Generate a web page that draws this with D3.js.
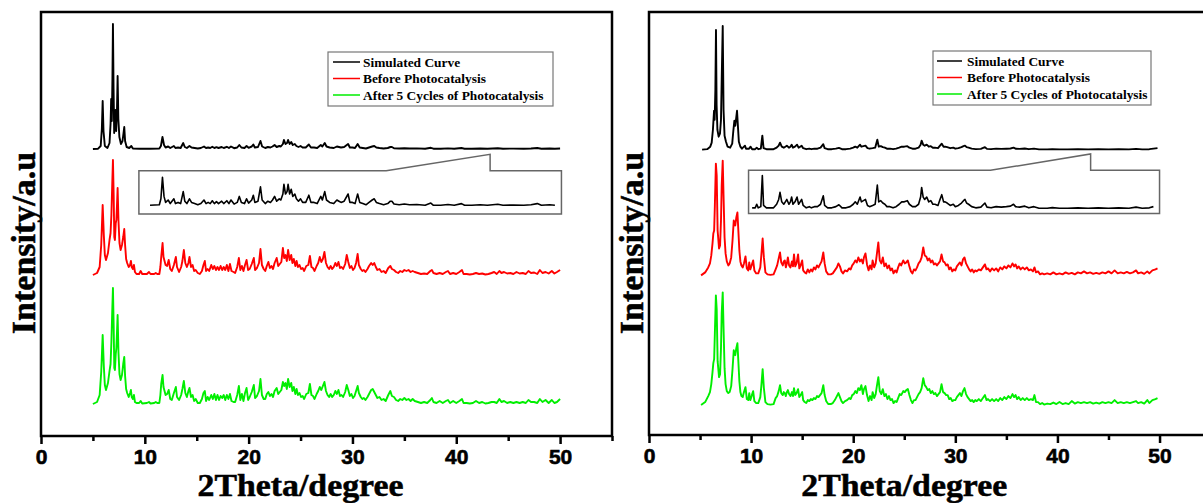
<!DOCTYPE html>
<html>
<head>
<meta charset="utf-8">
<script src="https://cdn.jsdelivr.net/npm/d3@7"></script>
<style>
  body { margin: 0; background: #fff; }
  .tick line { stroke: #000; stroke-width: 2.5px; }
  .title { font-family: "Liberation Serif", "Times New Roman", serif; font-weight: bold; font-size: 31px; fill: #000; stroke: #000; stroke-width: 0.5px; }
  .legendText { font-family: "Liberation Serif", "Times New Roman", serif; font-weight: bold; font-size: 13.4px; fill: #000; }
</style>
</head>
<body>
<div id="chart"></div>
<script>
// ---- data: [2theta, intensity (a.u.)] ----
var seriesNames = ["Simulated Curve", "Before Photocatalysis", "After 5 Cycles of Photocatalysis"];
var seriesColors = ["#000000", "#ff0000", "#00ee00"];
var xTicks = [0, 10, 20, 30, 40, 50];
var xMinorTicks = [5, 15, 25, 35, 45, 55];

// vertical stacking of the three patterns (a.u.)
var leftOffsets = [287, 161, 32];
var rightOffsets = [286, 160, 30];

var leftSim = [[5.0,0],[5.5,0.3],[5.75,3],[5.86,20],[5.94,48],[6.02,18],[6.15,3],[6.4,1],[6.6,6],[6.7,25],[6.76,50],[6.82,28],[6.88,70],[6.93,125],[6.99,60],[7.05,16],[7.12,30],[7.18,39],[7.24,18],[7.32,40],[7.38,73],[7.45,30],[7.55,12],[7.7,5],[7.85,8],[7.95,16],[8.02,22],[8.1,8],[8.25,2],[8.5,1],[8.7,3],[8.85,0.5],[9.5,0.3],[10.5,0.3],[11.4,0.5],[11.55,3],[11.7,12],[11.85,4],[12.0,1.5],[12.25,2.5],[12.45,1],[12.8,3],[12.95,1],[13.2,1.5],[13.45,1],[13.7,6],[13.85,2],[14.05,1],[14.3,3],[14.5,1.5],[14.8,1],[15.1,0.5],[15.4,1],[15.7,2.5],[15.9,1],[16.1,1.5],[16.3,1],[16.5,2.2],[16.7,1],[16.9,1.8],[17.1,1],[17.4,2],[17.6,1],[17.9,2.2],[18.1,1],[18.3,2.5],[18.6,0.8],[18.9,1.5],[19.1,4],[19.3,1.5],[19.6,1],[19.8,3],[20.0,1.2],[20.3,2.5],[20.45,4.5],[20.6,1.5],[20.9,2],[21.14,8],[21.3,2.5],[21.6,1],[21.85,2],[22.1,1.5],[22.3,2.5],[22.5,4],[22.7,2],[22.95,3],[23.1,2.5],[23.3,5],[23.4,9],[23.55,5],[23.7,6],[23.8,9],[23.95,5],[24.1,7],[24.25,4],[24.45,5],[24.6,3],[24.8,2],[25.0,3],[25.2,1.5],[25.5,1.5],[25.8,4.5],[26.0,1.5],[26.3,1.5],[26.6,1],[26.95,4],[27.1,2.5],[27.33,6],[27.5,2.5],[27.8,1.5],[28.2,1],[28.5,2.5],[28.7,2],[28.9,1.5],[29.2,2],[29.58,5],[29.75,1.5],[30.0,1.5],[30.25,1],[30.5,5],[30.7,1.5],[31.0,1],[31.3,0.5],[31.6,1.5],[31.9,2.5],[32.1,3],[32.3,1.5],[32.6,1],[33.0,0.5],[33.4,1],[33.65,2],[33.8,2],[34.0,0.8],[34.5,0.5],[35.0,0.8],[35.5,0.5],[36.2,0.6],[37.0,0.3],[37.55,1.2],[37.8,0.3],[38.5,0.3],[39.2,0.6],[39.8,0.3],[40.5,1],[40.8,0.3],[41.5,0.3],[42.3,0.5],[43.0,0.3],[44.0,0.7],[44.5,0.3],[45.5,0.4],[46.5,0.3],[47.2,0.5],[47.8,1],[48.2,0.3],[49.0,0.5],[49.5,0.3],[50.0,0.5]];

var leftBefore = [[5.0,0],[5.4,2],[5.65,8],[5.8,30],[5.94,70],[6.05,40],[6.15,20],[6.26,15],[6.45,22],[6.6,35],[6.7,42],[6.78,60],[6.86,90],[6.93,115],[7.0,80],[7.06,38],[7.12,35],[7.2,52],[7.26,55],[7.32,70],[7.38,87],[7.46,55],[7.56,32],[7.67,25],[7.8,30],[7.92,38],[8.02,46],[8.1,30],[8.2,16],[8.3,12],[8.45,8],[8.58,10],[8.66,14],[8.74,8],[8.85,6],[8.95,10],[9.05,3],[9.2,1],[9.45,1],[9.6,4],[9.75,1],[10.2,1],[10.4,3],[10.55,1],[10.9,1],[11.05,2],[11.2,1],[11.4,1],[11.5,8],[11.58,18],[11.71,32],[11.8,18],[11.9,14],[12.0,10],[12.15,9],[12.3,15],[12.45,6],[12.6,4],[12.8,10],[12.99,18],[13.1,8],[13.3,3],[13.5,8],[13.62,14],[13.76,25],[13.9,12],[14.05,8],[14.2,12],[14.3,18],[14.45,8],[14.6,10],[14.75,4],[14.9,5],[15.1,2],[15.3,1],[15.5,4],[15.65,10],[15.78,14],[15.9,4],[16.05,6],[16.2,4],[16.4,10],[16.55,6],[16.7,9],[16.85,5],[17.0,8],[17.15,5],[17.3,9],[17.45,5],[17.6,8],[17.75,5],[17.9,10],[18.05,4],[18.2,11],[18.35,4],[18.55,3],[18.7,2],[18.9,8],[19.06,17],[19.2,5],[19.35,9],[19.5,4],[19.65,10],[19.8,15],[19.95,5],[20.1,6],[20.3,11],[20.5,17],[20.62,5],[20.8,7],[21.0,12],[21.14,26],[21.28,10],[21.45,6],[21.6,4],[21.75,9],[21.9,13],[22.05,7],[22.2,9],[22.35,6],[22.5,12],[22.7,17],[22.85,9],[23.0,11],[23.15,13],[23.3,27],[23.42,17],[23.55,20],[23.68,14],[23.8,25],[23.95,15],[24.1,20],[24.22,12],[24.35,16],[24.5,9],[24.62,14],[24.75,8],[24.9,10],[25.05,6],[25.2,7],[25.35,4],[25.55,9],[25.75,10],[25.9,19],[26.05,8],[26.2,7],[26.35,4],[26.55,9],[26.7,12],[26.85,18],[27.0,13],[27.15,16],[27.3,23],[27.45,12],[27.6,8],[27.75,6],[27.9,9],[28.05,6],[28.2,8],[28.35,12],[28.5,9],[28.65,13],[28.8,7],[28.95,8],[29.1,6],[29.3,11],[29.45,20],[29.6,13],[29.75,7],[29.9,9],[30.05,5],[30.2,7],[30.35,12],[30.5,21],[30.62,10],[30.8,6],[30.95,4],[31.1,5],[31.25,3],[31.45,6],[31.6,9],[31.8,12],[31.95,10],[32.1,12],[32.25,8],[32.4,5],[32.6,6],[32.8,3],[33.0,4],[33.2,2],[33.45,7],[33.65,9],[33.8,6],[34.0,5],[34.2,3],[34.4,2],[34.6,4],[34.8,3],[35.0,5],[35.2,4],[35.4,5],[35.6,3],[35.8,4],[36.0,3],[36.3,2],[36.6,1],[36.9,1.5],[37.2,1],[37.5,4],[37.65,5],[37.8,2],[38.1,1],[38.4,2],[38.7,1],[39.0,3],[39.2,4],[39.4,1],[39.7,2],[40.0,1],[40.3,3],[40.55,5],[40.7,1],[41.0,1],[41.3,0.5],[41.6,1],[41.9,2],[42.2,1],[42.5,1.5],[42.8,0.5],[43.1,1],[43.4,2],[43.65,3],[43.9,1],[44.15,4],[44.35,2],[44.6,3],[44.9,1.5],[45.2,2],[45.5,1],[45.8,3],[46.1,1.5],[46.4,2],[46.7,1],[46.95,4],[47.2,2],[47.5,2.5],[47.8,1],[48.05,5],[48.3,2],[48.6,3],[48.9,1.5],[49.2,4],[49.45,1.5],[49.7,3],[50.0,5]];

var leftAfter = [[5.0,0],[5.4,2],[5.65,9],[5.8,32],[5.94,69],[6.05,38],[6.15,19],[6.26,14],[6.45,21],[6.6,33],[6.7,40],[6.78,62],[6.86,92],[6.93,116],[7.0,78],[7.06,36],[7.12,34],[7.2,50],[7.26,56],[7.32,72],[7.38,89],[7.46,52],[7.56,30],[7.67,24],[7.8,29],[7.92,40],[8.02,47],[8.1,28],[8.2,15],[8.3,11],[8.45,7],[8.58,11],[8.66,14],[8.74,7],[8.85,5],[8.95,9],[9.05,2],[9.2,1],[9.45,1],[9.6,3],[9.75,0.5],[10.2,1],[10.4,2],[10.55,0.5],[10.9,1],[11.05,2],[11.2,1],[11.4,1],[11.5,9],[11.58,20],[11.71,29],[11.8,17],[11.9,13],[12.0,9],[12.15,10],[12.3,14],[12.45,5],[12.6,4],[12.8,11],[12.99,17],[13.1,7],[13.3,4],[13.5,9],[13.62,15],[13.76,23],[13.9,11],[14.05,7],[14.2,13],[14.3,16],[14.45,7],[14.6,9],[14.75,3],[14.9,5],[15.1,1],[15.3,1],[15.5,5],[15.65,11],[15.78,13],[15.9,3],[16.05,7],[16.2,4],[16.4,9],[16.55,5],[16.7,10],[16.85,4],[17.0,9],[17.15,4],[17.3,8],[17.45,6],[17.6,9],[17.75,4],[17.9,9],[18.05,5],[18.2,10],[18.35,3],[18.55,2],[18.7,2],[18.9,9],[19.06,18],[19.2,4],[19.35,10],[19.5,3],[19.65,11],[19.8,16],[19.95,4],[20.1,7],[20.3,12],[20.5,19],[20.62,6],[20.8,8],[21.0,13],[21.14,25],[21.28,9],[21.45,5],[21.6,5],[21.75,10],[21.9,12],[22.05,8],[22.2,10],[22.35,7],[22.5,13],[22.7,16],[22.85,10],[23.0,12],[23.15,14],[23.3,22],[23.42,18],[23.55,21],[23.68,15],[23.8,25],[23.95,17],[24.1,21],[24.22,13],[24.35,17],[24.5,10],[24.62,15],[24.75,9],[24.9,11],[25.05,7],[25.2,8],[25.35,5],[25.55,10],[25.75,11],[25.9,20],[26.05,9],[26.2,8],[26.35,5],[26.55,10],[26.7,13],[26.85,17],[27.0,14],[27.15,18],[27.3,22],[27.45,13],[27.6,9],[27.75,7],[27.9,10],[28.05,7],[28.2,9],[28.35,13],[28.5,10],[28.65,14],[28.8,8],[28.95,9],[29.1,7],[29.3,12],[29.45,19],[29.6,14],[29.75,8],[29.9,10],[30.05,6],[30.2,8],[30.35,13],[30.5,18],[30.62,11],[30.8,7],[30.95,5],[31.1,6],[31.25,4],[31.45,7],[31.6,10],[31.8,14],[31.95,15],[32.1,12],[32.25,9],[32.4,6],[32.6,7],[32.8,4],[33.0,5],[33.2,3],[33.45,9],[33.65,13],[33.8,8],[34.0,7],[34.2,4],[34.4,3],[34.6,5],[34.8,4],[35.0,6],[35.2,4],[35.4,5],[35.6,3],[35.8,5],[36.0,3],[36.3,2],[36.6,1],[36.9,2],[37.2,1],[37.5,4],[37.65,6],[37.8,2],[38.1,1],[38.4,3],[38.7,1],[39.0,3],[39.2,4],[39.4,1],[39.7,3],[40.0,1],[40.3,3],[40.55,5],[40.7,1],[41.0,1],[41.3,0.5],[41.6,1],[41.9,3],[42.2,1],[42.5,2],[42.8,0.5],[43.1,1],[43.4,2],[43.65,2],[43.9,1],[44.15,5],[44.35,2],[44.6,3],[44.9,1],[45.2,2],[45.5,1],[45.8,2],[46.1,1],[46.4,2],[46.7,1],[46.95,4],[47.2,2],[47.5,2],[47.8,1],[48.05,5],[48.3,2],[48.6,4],[48.9,1],[49.2,4],[49.45,1],[49.7,2],[50.0,5]];

var rightSim = [[5.2,0],[5.7,0.5],[6.0,3],[6.14,7],[6.26,20],[6.37,39],[6.43,30],[6.5,60],[6.56,120],[6.62,45],[6.7,20],[6.82,13],[6.95,16],[7.05,30],[7.12,70],[7.22,124],[7.3,40],[7.4,14],[7.54,8],[7.7,3],[7.95,2],[8.15,6],[8.25,18],[8.36,29],[8.45,24],[8.52,30],[8.62,39],[8.7,25],[8.8,8],[8.95,3],[9.1,1],[9.4,4],[9.5,1],[9.8,1],[9.95,3],[10.1,0.5],[10.4,0.5],[10.55,2],[10.7,0.5],[10.95,1],[11.1,14],[11.22,1.5],[11.5,0.5],[12.2,0.5],[12.5,2],[12.7,4],[12.83,7],[13.0,3],[13.2,2],[13.35,3],[13.5,4],[13.7,2],[13.85,3],[13.97,5],[14.1,2],[14.3,3],[14.5,5],[14.65,2],[14.8,3],[14.95,4],[15.1,1.5],[15.4,0.5],[15.7,1],[15.9,0.5],[16.2,1],[16.5,1],[16.8,2],[17.07,5.5],[17.2,1.5],[17.5,0.5],[17.9,0.5],[18.3,1],[18.6,1.8],[18.9,0.5],[19.3,0.5],[19.7,1],[20.0,2],[20.2,3],[20.4,2],[20.67,5],[20.8,3],[21.0,3.5],[21.2,4],[21.4,1.5],[21.6,1],[21.9,1.5],[22.15,2],[22.36,10],[22.5,3],[22.7,3.5],[22.9,2.5],[23.1,2],[23.3,1],[23.6,1],[23.9,0.5],[24.2,1],[24.5,2],[24.75,3],[25.0,3],[25.3,3.5],[25.5,2],[25.8,1],[26.1,1],[26.4,2],[26.6,5],[26.7,9],[26.85,5],[27.0,4],[27.2,5],[27.4,3],[27.6,3.5],[27.8,2],[28.0,2],[28.3,1.5],[28.5,4],[28.67,6],[28.85,3],[29.0,3],[29.2,2.5],[29.5,1.5],[29.8,2],[30.0,1],[30.3,1.5],[30.6,2.5],[30.8,3.5],[30.95,4],[31.1,2.5],[31.3,2],[31.6,1],[32.0,0.5],[32.5,0.8],[32.9,2.5],[33.1,0.8],[33.5,0.5],[34.0,1],[34.5,0.8],[35.0,1],[35.4,1.2],[35.7,2],[35.9,1],[36.3,0.8],[36.8,1.2],[37.2,0.5],[37.7,1],[38.2,0.3],[39.0,0.3],[39.5,0.6],[40.2,0.3],[41.0,0.3],[42.0,0.5],[43.0,0.3],[44.0,0.5],[45.0,0.3],[46.0,0.5],[47.0,0.3],[47.7,0.8],[48.3,0.3],[49.0,0.5],[49.4,1],[49.8,1.5]];

var rightBefore = [[5.1,0],[5.5,3],[5.8,8],[5.97,12],[6.1,20],[6.22,32],[6.3,42],[6.38,45],[6.45,70],[6.55,112],[6.63,100],[6.72,45],[6.86,27],[6.96,30],[7.05,55],[7.12,90],[7.22,115],[7.3,80],[7.4,38],[7.5,22],[7.62,14],[7.77,10],[7.9,12],[8.05,18],[8.18,35],[8.3,55],[8.36,52],[8.45,50],[8.55,58],[8.66,63],[8.75,45],[8.85,25],[8.95,14],[9.05,10],[9.18,8],[9.3,12],[9.45,19],[9.58,7],[9.72,5],[9.82,13],[9.92,6],[10.05,10],[10.2,15],[10.32,5],[10.5,2],[10.7,2],[10.9,8],[11.0,20],[11.13,37],[11.25,18],[11.4,3],[11.6,1],[11.9,0.5],[12.2,1],[12.4,6],[12.55,10],[12.7,17],[12.83,23],[12.95,13],[13.1,10],[13.2,14],[13.3,15],[13.4,8],[13.5,12],[13.6,18],[13.72,10],[13.85,8],[14.0,14],[14.1,9],[14.2,21],[14.32,9],[14.45,12],[14.6,21],[14.72,7],[14.85,10],[15.0,15],[15.1,5],[15.25,3],[15.4,2],[15.55,6],[15.7,3],[15.85,6],[16.0,4],[16.15,8],[16.3,6],[16.45,10],[16.6,8],[16.75,11],[16.9,14],[17.07,23],[17.2,12],[17.35,4],[17.55,1],[17.8,1],[18.0,2],[18.2,5],[18.4,8],[18.55,12],[18.7,9],[18.85,4],[19.0,2],[19.2,5],[19.4,4],[19.6,7],[19.75,6],[19.9,10],[20.05,12],[20.2,15],[20.35,13],[20.5,18],[20.65,14],[20.8,16],[20.95,12],[21.05,18],[21.2,22],[21.35,11],[21.5,5],[21.65,10],[21.8,6],[21.9,15],[22.05,8],[22.2,12],[22.3,20],[22.46,33],[22.6,15],[22.75,12],[22.9,18],[23.05,9],[23.2,12],[23.35,7],[23.5,10],[23.65,5],[23.8,7],[23.95,2],[24.1,5],[24.25,3],[24.4,8],[24.55,12],[24.7,10],[24.9,15],[25.05,12],[25.2,13],[25.35,15],[25.5,9],[25.65,4],[25.8,2],[25.95,6],[26.1,5],[26.25,8],[26.4,12],[26.55,14],[26.7,18],[26.86,28],[27.0,20],[27.15,19],[27.3,15],[27.45,17],[27.6,13],[27.75,15],[27.9,11],[28.05,12],[28.2,10],[28.35,12],[28.5,14],[28.65,21],[28.8,14],[28.95,13],[29.1,10],[29.25,11],[29.4,6],[29.55,8],[29.7,4],[29.85,6],[30.0,5],[30.15,9],[30.3,11],[30.45,13],[30.6,10],[30.75,16],[30.9,18],[31.05,12],[31.2,9],[31.35,6],[31.5,4],[31.65,6],[31.8,3],[31.95,5],[32.1,4],[32.3,6],[32.5,5],[32.7,8],[32.9,11],[33.05,6],[33.2,7],[33.4,4],[33.6,7],[33.8,5],[34.0,7],[34.2,4],[34.4,8],[34.6,6],[34.8,9],[35.0,7],[35.2,10],[35.4,8],[35.6,12],[35.75,9],[35.9,11],[36.05,7],[36.2,9],[36.4,6],[36.6,8],[36.8,6],[37.0,8],[37.2,5],[37.4,6],[37.6,4],[37.75,8],[37.9,3],[38.1,4],[38.3,1],[38.5,2],[38.7,1],[39.0,2],[39.3,1],[39.6,3],[39.9,1],[40.2,2],[40.5,1],[40.8,3],[41.1,1.5],[41.4,2.5],[41.7,1],[42.0,3],[42.3,2],[42.6,4],[42.9,2],[43.2,3],[43.5,1.5],[43.8,2.5],[44.1,1.5],[44.4,3],[44.7,2],[45.0,4],[45.3,2],[45.6,5],[45.9,2],[46.2,3],[46.5,2],[46.8,3.5],[47.1,2],[47.4,3],[47.7,5],[47.9,2],[48.2,3],[48.5,1.5],[48.8,4],[49.0,2],[49.3,5],[49.6,6],[49.8,7]];

var rightAfter = [[5.1,0],[5.5,3],[5.8,9],[5.97,13],[6.1,21],[6.22,33],[6.3,42],[6.38,46],[6.45,72],[6.55,110],[6.63,96],[6.72,44],[6.86,28],[6.96,31],[7.05,57],[7.12,92],[7.22,113],[7.3,78],[7.4,37],[7.5,21],[7.62,14],[7.77,12],[7.9,13],[8.05,19],[8.18,36],[8.3,55],[8.36,53],[8.45,50],[8.55,57],[8.66,62],[8.75,44],[8.85,24],[8.95,13],[9.05,9],[9.18,8],[9.3,13],[9.45,18],[9.58,6],[9.72,5],[9.82,12],[9.92,5],[10.05,9],[10.2,14],[10.32,4],[10.5,2],[10.7,2],[10.9,8],[11.0,19],[11.13,36],[11.25,17],[11.4,3],[11.6,1],[11.9,0.5],[12.2,1],[12.4,7],[12.55,9],[12.7,14],[12.83,20],[12.95,12],[13.1,10],[13.2,13],[13.3,12],[13.4,9],[13.5,13],[13.6,15],[13.72,11],[13.85,9],[14.0,13],[14.1,9],[14.2,17],[14.32,10],[14.45,12],[14.6,16],[14.72,8],[14.85,10],[15.0,13],[15.1,5],[15.25,3],[15.4,2],[15.55,5],[15.7,4],[15.85,6],[16.0,5],[16.15,7],[16.3,6],[16.45,9],[16.6,8],[16.75,10],[16.9,12],[17.07,20],[17.2,10],[17.35,4],[17.55,1],[17.8,1],[18.0,2],[18.2,5],[18.4,9],[18.55,12],[18.7,8],[18.85,4],[19.0,2],[19.2,4],[19.4,5],[19.6,7],[19.75,6],[19.9,10],[20.05,11],[20.2,14],[20.35,12],[20.5,17],[20.65,15],[20.8,20],[20.95,11],[21.05,16],[21.2,19],[21.35,10],[21.5,4],[21.65,9],[21.8,5],[21.9,13],[22.05,7],[22.2,11],[22.3,18],[22.46,28],[22.6,14],[22.75,11],[22.9,16],[23.05,9],[23.2,11],[23.35,6],[23.5,9],[23.65,5],[23.8,6],[23.95,2],[24.1,4],[24.25,3],[24.4,7],[24.55,11],[24.7,10],[24.9,14],[25.05,13],[25.2,15],[25.35,16],[25.5,10],[25.65,5],[25.8,2],[25.95,5],[26.1,5],[26.25,8],[26.4,11],[26.55,13],[26.7,17],[26.86,27],[27.0,20],[27.15,18],[27.3,15],[27.45,16],[27.6,12],[27.75,14],[27.9,11],[28.05,12],[28.2,9],[28.35,11],[28.5,13],[28.65,21],[28.8,13],[28.95,12],[29.1,10],[29.25,10],[29.4,6],[29.55,7],[29.7,4],[29.85,5],[30.0,5],[30.15,8],[30.3,10],[30.45,12],[30.6,9],[30.75,14],[30.9,17],[31.05,11],[31.2,8],[31.35,6],[31.5,4],[31.65,5],[31.8,3],[31.95,5],[32.1,4],[32.3,6],[32.5,4],[32.7,7],[32.9,10],[33.05,5],[33.2,6],[33.4,4],[33.6,6],[33.8,4],[34.0,6],[34.2,4],[34.4,7],[34.6,5],[34.8,8],[35.0,6],[35.2,9],[35.4,7],[35.6,11],[35.75,8],[35.9,10],[36.05,6],[36.2,8],[36.4,5],[36.6,7],[36.8,5],[37.0,7],[37.2,5],[37.4,6],[37.6,5],[37.75,10],[37.9,3],[38.1,3],[38.3,1],[38.5,2],[38.7,0.5],[39.0,1.5],[39.3,1],[39.6,2.5],[39.9,1],[40.2,3],[40.5,1],[40.8,2],[41.1,1],[41.4,4],[41.7,1.5],[42.0,3],[42.3,2],[42.6,3],[42.9,2],[43.2,3],[43.5,1.5],[43.8,2.5],[44.1,1.5],[44.4,3],[44.7,2],[45.0,3],[45.3,2],[45.6,5],[45.9,2],[46.2,3],[46.5,2],[46.8,3],[47.1,2],[47.4,3],[47.7,4],[47.9,2],[48.2,3],[48.5,1.5],[48.8,5],[49.0,2],[49.3,5],[49.6,6],[49.8,7]];

// ---- layout ----
var svgWidth = 1203;
var svgHeight = 503;
var yMax = 424;        // a.u. at top of frame
var insetGain = 2.4;   // magnification of the zoomed simulated curve

var panels = [
  { left: 41, right: 612, top: 12, bottom: 436, yTitleX: 35,
    series: [leftSim, leftBefore, leftAfter], offsets: leftOffsets,
    legend: { x: 328, y: 52, w: 225, h: 54, rows: [62, 78.5, 95], lineX: [333, 360], textX: 363 },
    inset: { x0: 9.43, x1: 50.13, xa: 33.25, xb: 43.26, yBot: 222, yTop: 265.3, yPeak: 281.7,
             base: 230, from: 10.3, to: 49.85 } },
  { left: 649, right: 1210.6, top: 12, bottom: 435, yTitleX: 643,
    series: [rightSim, rightBefore, rightAfter], offsets: rightOffsets,
    legend: { x: 933, y: 51, w: 218, h: 54, rows: [61, 77.5, 94], lineX: [937, 962], textX: 967 },
    inset: { x0: 9.75, x1: 50.0, xa: 33.44, xb: 43.25, yBot: 222, yTop: 265.3, yPeak: 281.7,
             base: 226.5, from: 10.1, to: 49.6 } }
];

var svg = d3.select("#chart")
  .append("svg")
  .attr("width", svgWidth)
  .attr("height", svgHeight);

panels.forEach(function(p) {
  var x = d3.scaleLinear().domain([0, 55]).range([p.left, p.right]);
  var y = d3.scaleLinear().domain([0, yMax]).range([p.bottom, p.top]);
  var g = svg.append("g");

  // frame
  g.append("rect")
    .attr("x", p.left).attr("y", p.top)
    .attr("width", p.right - p.left).attr("height", p.bottom - p.top)
    .attr("fill", "none").attr("stroke", "#000").attr("stroke-width", 2.5);

  // major + minor ticks
  var major = g.append("g")
    .attr("transform", `translate(0, ${p.bottom})`)
    .call(d3.axisBottom(x).tickValues(xTicks).tickSize(8).tickPadding(5).tickFormat(d3.format("d")));
  major.select(".domain").remove();
  major.selectAll("text")
    .style("font-family", '"Liberation Sans", Arial, sans-serif')
    .style("font-weight", "bold")
    .style("font-size", "21px")
    .attr("fill", "#000")
    .attr("stroke", "#000")
    .attr("stroke-width", 0.6);
  var minor = g.append("g")
    .attr("transform", `translate(0, ${p.bottom})`)
    .call(d3.axisBottom(x).tickValues(xMinorTicks).tickSize(5).tickFormat(""));
  minor.select(".domain").remove();

  // titles
  g.append("text").attr("class", "title")
    .attr("x", x(25)).attr("y", 496)
    .attr("text-anchor", "middle")
    .attr("textLength", 206)
    .attr("lengthAdjust", "spacingAndGlyphs")
    .text("2Theta/degree");
  g.append("text").attr("class", "title")
    .attr("transform", `translate(${p.yTitleX}, 243) rotate(-90)`)
    .attr("text-anchor", "middle")
    .style("font-size", "34px")
    .text("Intensity/a.u");

  // patterns
  p.series.forEach(function(data, i) {
    var off = p.offsets[i];
    var line = d3.line()
      .x(d => x(d[0]))
      .y(d => y(d[1] + off));
    g.append("path")
      .datum(data)
      .attr("d", line)
      .attr("fill", "none")
      .attr("stroke", seriesColors[i])
      .attr("stroke-width", 1.9)
      .attr("stroke-linejoin", "round");
  });

  // inset with magnified simulated curve
  var ins = p.inset;
  var shape = [
    [ins.x0, ins.yTop], [ins.xa, ins.yTop], [ins.xb, ins.yPeak], [ins.xb, ins.yTop],
    [ins.x1, ins.yTop], [ins.x1, ins.yBot], [ins.x0, ins.yBot]
  ];
  g.append("path")
    .attr("d", d3.line().x(d => x(d[0])).y(d => y(d[1]))(shape) + "Z")
    .attr("fill", "none")
    .attr("stroke", "#666")
    .attr("stroke-width", 1.5);

  var zoomed = p.series[0].filter(d => d[0] >= ins.from && d[0] <= ins.to);
  g.append("path")
    .datum(zoomed)
    .attr("d", d3.line().x(d => x(d[0])).y(d => y(ins.base + d[1] * insetGain)))
    .attr("fill", "none")
    .attr("stroke", "#000")
    .attr("stroke-width", 1.6)
    .attr("stroke-linejoin", "round");

  // legend
  var lg = p.legend;
  g.append("rect")
    .attr("x", lg.x).attr("y", lg.y).attr("width", lg.w).attr("height", lg.h)
    .attr("fill", "#fff").attr("stroke", "#777").attr("stroke-width", 1.2);
  seriesNames.forEach(function(name, i) {
    g.append("line")
      .attr("x1", lg.lineX[0]).attr("x2", lg.lineX[1])
      .attr("y1", lg.rows[i]).attr("y2", lg.rows[i])
      .attr("stroke", seriesColors[i]).attr("stroke-width", 1.5);
    g.append("text").attr("class", "legendText")
      .attr("x", lg.textX).attr("y", lg.rows[i] + 4.5)
      .text(name);
  });
});
</script>
</body>
</html>
